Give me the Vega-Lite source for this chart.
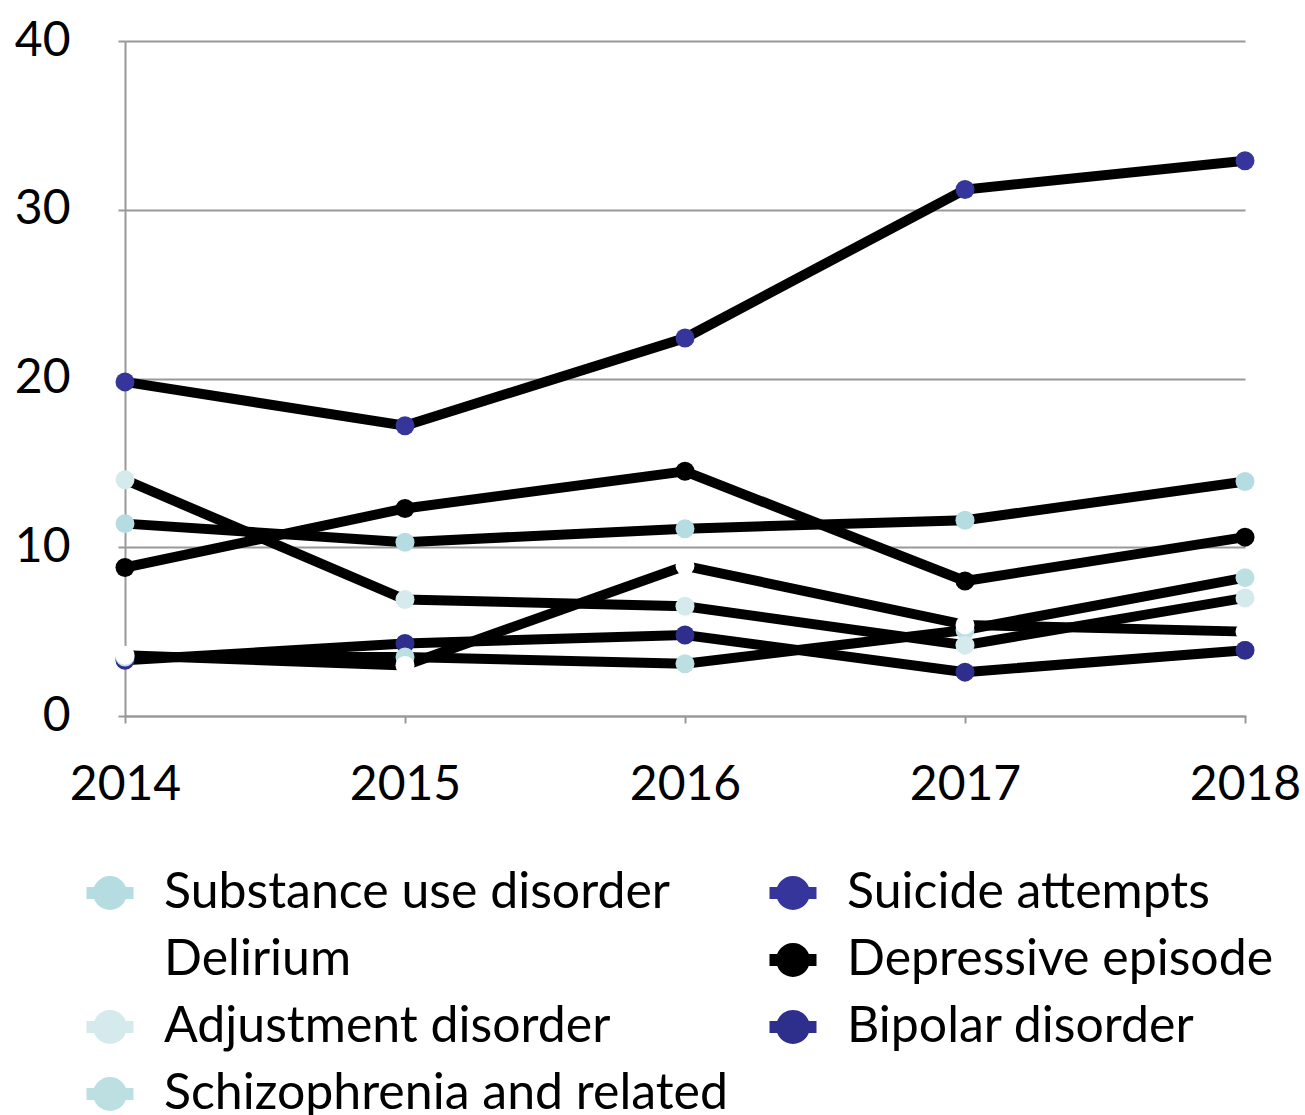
{
  "$schema": "https://vega.github.io/schema/vega-lite/v6.json",
  "width": 1120,
  "height": 675,
  "autosize": {"type": "none"},
  "padding": {"left": 125, "top": 41, "right": 60, "bottom": 399},
  "background": "white",
  "config": {
    "view": {"stroke": null},
    "font": "Lato",
    "axis": {"labelFont": "Lato", "labelColor": "#000000", "labelFontSize": 48, "domainColor": "#999999", "domainWidth": 2, "tickColor": "#999999", "tickWidth": 2, "tickSize": 7, "gridColor": "#999999", "gridWidth": 2}
  },
  "data": {
    "values": [
      {"series": "Bipolar disorder", "year": "2014", "value": 3.3},
      {"series": "Bipolar disorder", "year": "2015", "value": 4.3},
      {"series": "Bipolar disorder", "year": "2016", "value": 4.8},
      {"series": "Bipolar disorder", "year": "2017", "value": 2.6},
      {"series": "Bipolar disorder", "year": "2018", "value": 3.9},
      {"series": "Depressive episode", "year": "2014", "value": 8.8},
      {"series": "Depressive episode", "year": "2015", "value": 12.3},
      {"series": "Depressive episode", "year": "2016", "value": 14.5},
      {"series": "Depressive episode", "year": "2017", "value": 8.0},
      {"series": "Depressive episode", "year": "2018", "value": 10.6},
      {"series": "Suicide attempts", "year": "2014", "value": 19.8},
      {"series": "Suicide attempts", "year": "2015", "value": 17.2},
      {"series": "Suicide attempts", "year": "2016", "value": 22.4},
      {"series": "Suicide attempts", "year": "2017", "value": 31.2},
      {"series": "Suicide attempts", "year": "2018", "value": 32.9},
      {"series": "Schizophrenia and related", "year": "2014", "value": 3.5},
      {"series": "Schizophrenia and related", "year": "2015", "value": 3.5},
      {"series": "Schizophrenia and related", "year": "2016", "value": 3.1},
      {"series": "Schizophrenia and related", "year": "2017", "value": 5.1},
      {"series": "Schizophrenia and related", "year": "2018", "value": 8.2},
      {"series": "Adjustment disorder", "year": "2014", "value": 14.0},
      {"series": "Adjustment disorder", "year": "2015", "value": 6.9},
      {"series": "Adjustment disorder", "year": "2016", "value": 6.5},
      {"series": "Adjustment disorder", "year": "2017", "value": 4.2},
      {"series": "Adjustment disorder", "year": "2018", "value": 7.0},
      {"series": "Delirium", "year": "2014", "value": 3.6},
      {"series": "Delirium", "year": "2015", "value": 3.0},
      {"series": "Delirium", "year": "2016", "value": 8.9},
      {"series": "Delirium", "year": "2017", "value": 5.4},
      {"series": "Delirium", "year": "2018", "value": 5.0},
      {"series": "Substance use disorder", "year": "2014", "value": 11.4},
      {"series": "Substance use disorder", "year": "2015", "value": 10.3},
      {"series": "Substance use disorder", "year": "2016", "value": 11.1},
      {"series": "Substance use disorder", "year": "2017", "value": 11.6},
      {"series": "Substance use disorder", "year": "2018", "value": 13.9}
    ]
  },
  "encoding": {
    "x": {"field": "year", "type": "ordinal", "sort": null, "scale": {"type": "point", "padding": 0},
      "axis": {"title": null, "labelAngle": 0, "labelPadding": 38, "grid": false, "domainCap": "square"}},
    "y": {"field": "value", "type": "quantitative", "scale": {"domain": [0, 40], "nice": false},
      "axis": {"title": null, "values": [0, 10, 20, 30, 40], "labelPadding": 48, "grid": true}}
  },
  "layer": [
    {
      "mark": {"type": "line", "color": "#000000", "strokeWidth": 10, "strokeJoin": "miter", "strokeCap": "butt"},
      "encoding": {"detail": {"field": "series"}}
    },
    {
      "mark": {"type": "point", "filled": true, "size": 361, "shape": "circle", "opacity": 1},
      "encoding": {
        "color": {
          "field": "series",
          "type": "nominal",
          "scale": {
            "domain": ["Substance use disorder", "Delirium", "Adjustment disorder", "Schizophrenia and related", "Suicide attempts", "Depressive episode", "Bipolar disorder"],
            "range": ["#b5dce0", "#ffffff", "#d5eaec", "#bcdfe2", "#35359c", "#000000", "#2e2e8c"]
          },
          "legend": {
            "title": null,
            "orient": "none",
            "legendX": -40,
            "legendY": 827,
            "direction": "vertical",
            "columns": 2,
            "columnPadding": 40,
            "rowPadding": 17,
            "labelFont": "Lato",
            "labelFontSize": 50,
            "labelColor": "#000000",
            "labelLimit": 1000,
            "labelOffset": 29,
            "symbolSize": 2209,
            "symbolStrokeWidth": 0,
            "symbolOpacity": 1,
            "symbolType": "M -1 -0.26 L 1 -0.26 L 1 0.26 L -1 0.26 Z M 0.72 0 A 0.72 0.72 0 1 1 -0.72 0 A 0.72 0.72 0 1 1 0.72 0 Z"
          }
        }
      }
    }
  ]
}
